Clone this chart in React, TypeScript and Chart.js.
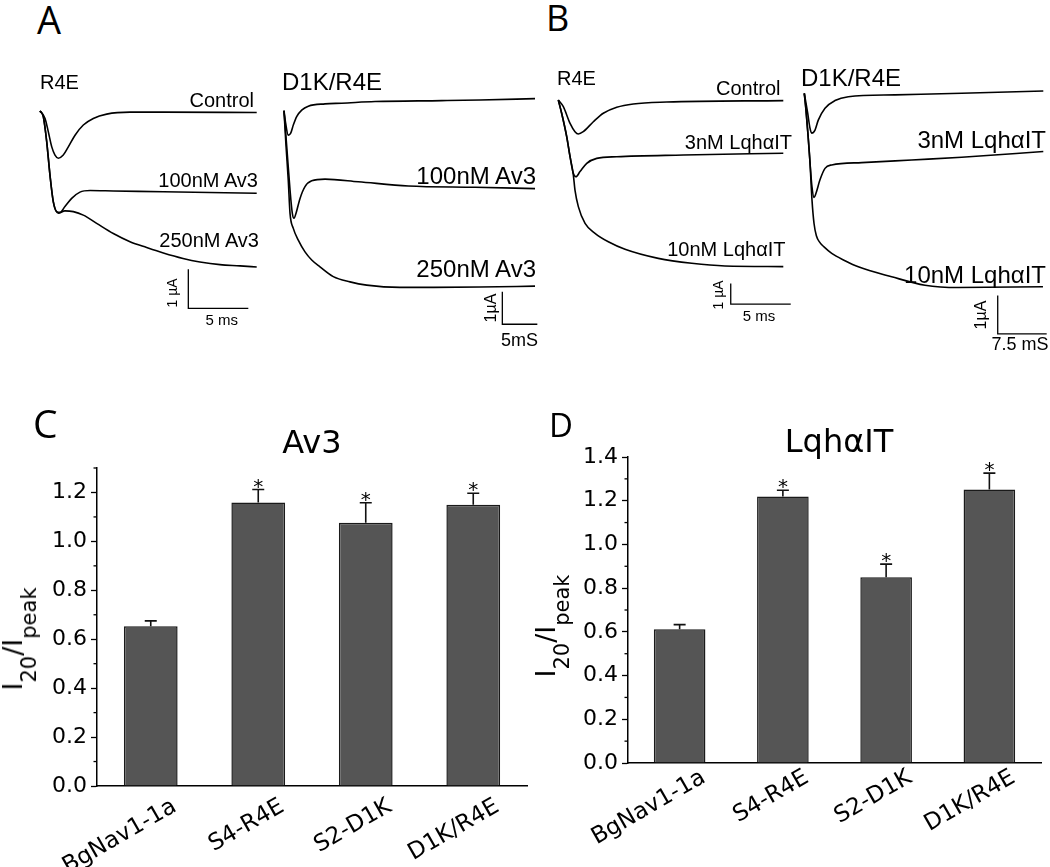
import React, { useEffect, useRef } from 'react';
import { Chart, registerables } from 'chart.js';

Chart.register(...registerables);

type Pt = [number, number];

// ===== Panel A, R4E (time ms, current µA) =====
const aR4eControl: Pt[] = [[0, 0], [0.42, -0.19], [0.69, -0.53], [0.98, -0.92], [1.25, -1.13], [1.53, -1.21], [1.94, -1.13], [2.36, -0.92], [2.92, -0.62], [3.61, -0.36], [4.44, -0.19], [5.56, -0.08], [7.5, -0.03], [10.28, -0.03], [18.06, -0.04]];
const aR4eAv3_100: Pt[] = [[0, 0], [0.28, -0.15], [0.56, -0.79], [0.83, -1.64], [1.11, -2.33], [1.39, -2.58], [1.67, -2.6], [2.08, -2.45], [2.64, -2.24], [3.33, -2.08], [4.17, -2.04], [6.11, -2.05], [10.28, -2.07], [18.06, -2.11]];
const aR4eAv3_250: Pt[] = [[0, 0], [0.28, -0.15], [0.56, -0.79], [0.83, -1.64], [1.11, -2.33], [1.53, -2.62], [2.08, -2.56], [2.78, -2.58], [3.61, -2.67], [4.72, -2.88], [6.11, -3.14], [7.5, -3.35], [8.89, -3.5], [10.28, -3.64], [11.92, -3.78], [13.33, -3.87], [15, -3.94], [16.67, -3.97], [18.06, -4.0]];
const aR4eScale = { t: 12.36, i: -5.06, ms: 5, ua: 1 };

// ===== Panel A, D1K/R4E =====
const aD1kControl: Pt[] = [[0, 0], [0.24, -0.39], [0.61, -0.75], [0.96, -0.69], [1.33, -0.44], [1.81, -0.18], [2.53, 0.02], [3.47, 0.14], [5.86, 0.21], [8.24, 0.23], [13, 0.28], [22.53, 0.31], [28, 0.33], [35.86, 0.37]];
const aD1kAv3_100: Pt[] = [[0, 0], [0.39, -1.1], [0.86, -2.43], [1.19, -3.15], [1.43, -3.3], [1.71, -3.15], [2.29, -2.69], [3.0, -2.33], [3.96, -2.15], [5.86, -2.1], [10.61, -2.18], [17.76, -2.31], [27.29, -2.35], [35.86, -2.39]];
const aD1kAv3_250: Pt[] = [[0, 0], [0.29, -1.08], [0.61, -2.13], [0.86, -3.15], [1.33, -3.61], [2.04, -3.97], [3.0, -4.33], [3.96, -4.58], [5.14, -4.79], [7.04, -5.09], [9.43, -5.25], [11.81, -5.35], [16.57, -5.42], [21.33, -5.42], [28, -5.41], [35.86, -5.38]];
const aD1kScale = { t: 31.19, i: -6.55, ms: 5, ua: 1 };

// ===== Panel B, R4E =====
const bR4eControl: Pt[] = [[0, 0], [0.42, -0.32], [0.98, -1.13], [1.39, -1.53], [1.67, -1.64], [2.08, -1.53], [2.92, -1.05], [3.75, -0.64], [4.87, -0.35], [6.25, -0.19], [9.03, -0.1], [18.75, -0.03]];
const bR4eLqh3: Pt[] = [[0, 0], [0.28, -0.64], [0.7, -1.77], [0.98, -2.74], [1.25, -3.54], [1.47, -3.71], [1.81, -3.46], [2.37, -3.06], [3.2, -2.82], [4.87, -2.74], [10.42, -2.66], [18.75, -2.57]];
const bR4eLqh10: Pt[] = [[0, 0], [0.28, -0.64], [0.7, -1.77], [0.98, -2.74], [1.25, -3.6], [1.39, -4.35], [1.67, -5.15], [2.23, -5.96], [3.06, -6.44], [4.17, -6.85], [5.56, -7.21], [8.33, -7.65], [11.12, -7.89], [13.89, -8.02], [18.75, -8.05]];
const bR4eScale = { t: 14.37, i: -9.86, ms: 5, ua: 1 };

// ===== Panel B, D1K/R4E =====
const bD1kControl: Pt[] = [[0, 0], [0.52, -0.52], [0.87, -0.91], [1.13, -1.04], [1.64, -0.96], [2.14, -0.7], [3.17, -0.39], [4.7, -0.19], [6.74, -0.09], [13.89, -0.04], [24.1, 0], [36.6, 0.06]];
const bD1kLqh3: Pt[] = [[0, 0], [0.26, -0.44], [0.57, -1.09], [0.87, -1.8], [1.18, -2.45], [1.49, -2.72], [1.79, -2.61], [2.4, -2.26], [3.17, -1.96], [4.2, -1.87], [8.79, -1.81], [16.45, -1.74], [24.1, -1.67], [36.6, -1.52]];
const bD1kLqh10: Pt[] = [[0, 0], [0.26, -0.44], [0.57, -1.09], [0.87, -1.8], [1.18, -2.79], [1.49, -3.4], [1.85, -3.72], [2.4, -3.9], [3.02, -4.01], [4.2, -4.18], [6.23, -4.37], [8.27, -4.53], [13.38, -4.79], [18.48, -5.01], [23.58, -5.07], [36.55, -5.05]];
const bD1kScale = { t: 29.62, i: -6.28, ms: 7.5, ua: 1 };

// ===== Bar panels =====
const barCategories = ['BgNav1-1a', 'S4-R4E', 'S2-D1K', 'D1K/R4E'];
const av3Means = [0.653, 1.159, 1.076, 1.15];
const av3Sem = [0.022, 0.053, 0.082, 0.047];
const av3Sig = [false, true, true, true];
const lqhMeans = [0.612, 1.219, 0.85, 1.251];
const lqhSem = [0.021, 0.029, 0.06, 0.075];
const lqhSig = [false, true, true, true];

type Frame = { left: number; top: number; width: number; height: number; ox: number; oy: number; pxX: number; pxY: number };
type Bar = { t: number; i: number; ms: number; ua: number };

function TracePanel({ frame, traces, bar }: { frame: Frame; traces: Pt[][]; bar: Bar }) {
  const ref = useRef<HTMLCanvasElement>(null);
  useEffect(() => {
    const f = frame;
    const xMin = (f.left - f.ox) / f.pxX;
    const xMax = (f.left + f.width - f.ox) / f.pxX;
    const yMax = (f.oy - f.top) / f.pxY;
    const yMin = (f.oy - f.top - f.height) / f.pxY;
    const datasets: any[] = traces.map((t) => ({
      data: t.map(([x, y]) => ({ x, y })),
      showLine: true,
      borderColor: '#000',
      borderWidth: 1.6,
      pointRadius: 0,
      cubicInterpolationMode: 'monotone',
      clip: false,
    }));
    datasets.push({
      data: [
        { x: bar.t, y: bar.i + bar.ua },
        { x: bar.t, y: bar.i },
        { x: bar.t + bar.ms, y: bar.i },
      ],
      showLine: true,
      borderColor: '#000',
      borderWidth: 1.3,
      pointRadius: 0,
      tension: 0,
      clip: false,
    });
    const chart = new Chart(ref.current as HTMLCanvasElement, {
      type: 'scatter',
      data: { datasets },
      options: {
        responsive: false,
        animation: false,
        devicePixelRatio: 1,
        events: [],
        layout: { padding: 0 },
        plugins: { legend: { display: false }, tooltip: { enabled: false } },
        scales: {
          x: { type: 'linear', display: false, min: xMin, max: xMax },
          y: { type: 'linear', display: false, min: yMin, max: yMax },
        },
      } as any,
    });
    return () => chart.destroy();
  }, []);
  return (
    <canvas
      ref={ref}
      width={frame.width}
      height={frame.height}
      style={{ position: 'absolute', left: frame.left, top: frame.top, width: frame.width, height: frame.height, display: 'block' }}
    />
  );
}

type BarBox = {
  left: number; top: number; width: number; height: number;
  axisX: number; areaTop: number; areaRight: number; areaBottom: number;
  yMax: number; labelPadding: number;
};

function BarPanel({ box, means, sems, sig }: { box: BarBox; means: number[]; sems: number[]; sig: boolean[] }) {
  const ref = useRef<HTMLCanvasElement>(null);
  useEffect(() => {
    const tickFont = { family: 'DejaVu Sans', size: 22 };
    const catFont = { family: 'DejaVu Sans', size: 23 };
    const errPlugin = {
      id: 'errbars',
      afterDatasetsDraw(chart: any) {
        const ctx = chart.ctx;
        const y = chart.scales.y;
        const meta = chart.getDatasetMeta(0);
        ctx.save();
        ctx.strokeStyle = '#111';
        ctx.lineWidth = 1.6;
        meta.data.forEach((el: any, i: number) => {
          const top = y.getPixelForValue(means[i] + sems[i]);
          ctx.beginPath();
          ctx.moveTo(el.x, el.y);
          ctx.lineTo(el.x, top);
          ctx.moveTo(el.x - 6, top);
          ctx.lineTo(el.x + 6, top);
          ctx.stroke();
          if (sig[i]) {
            ctx.fillStyle = '#000';
            ctx.font = '20px "DejaVu Sans"';
            ctx.textAlign = 'center';
            ctx.textBaseline = 'alphabetic';
            ctx.fillText('*', el.x, top + 3);
          }
        });
        // minor ticks between labelled ticks
        const left = chart.chartArea.left;
        ctx.strokeStyle = '#000';
        ctx.lineWidth = 1.3;
        for (let k = 1; k / 10 <= box.yMax + 1e-9; k += 2) {
          const py = y.getPixelForValue(k / 10);
          ctx.beginPath();
          ctx.moveTo(left - 3.5, py);
          ctx.lineTo(left, py);
          ctx.stroke();
        }
        ctx.restore();
      },
    };
    const chart = new Chart(ref.current as HTMLCanvasElement, {
      type: 'bar',
      data: {
        labels: barCategories,
        datasets: [
          {
            data: means,
            backgroundColor: '#555555',
            borderColor: '#1a1a1a',
            borderWidth: 1.5,
            barPercentage: 0.5,
            categoryPercentage: 1,
          },
        ],
      },
      options: {
        responsive: false,
        animation: false,
        devicePixelRatio: 1,
        events: [],
        layout: {
          padding: { top: box.areaTop - box.top, right: box.left + box.width - box.areaRight, left: 0, bottom: 0 },
        },
        plugins: { legend: { display: false }, tooltip: { enabled: false }, title: { display: false } },
        scales: {
          x: {
            grid: { display: false, drawTicks: false },
            border: { display: true, color: '#000', width: 1.5 },
            ticks: {
              color: '#000',
              font: catFont,
              minRotation: 30,
              maxRotation: 30,
              labelOffset: 24,
              padding: box.labelPadding,
              autoSkip: false,
            },
            afterFit: (s: any) => {
              s.height = box.top + box.height - box.areaBottom;
            },
          },
          y: {
            min: 0,
            max: box.yMax,
            grid: { drawOnChartArea: false, drawTicks: true, tickLength: 6, tickColor: '#000', tickWidth: 1.3 },
            border: { display: true, color: '#000', width: 1.5 },
            ticks: {
              stepSize: 0.2,
              includeBounds: false,
              color: '#000',
              padding: 4,
              font: tickFont,
              callback: (v: any) => Number(v).toFixed(1),
            },
            afterFit: (s: any) => {
              s.width = box.axisX - box.left;
            },
          },
        },
      } as any,
      plugins: [errPlugin],
    });
    return () => chart.destroy();
  }, []);
  return (
    <canvas
      ref={ref}
      width={box.width}
      height={box.height}
      style={{ position: 'absolute', left: box.left, top: box.top, width: box.width, height: box.height, display: 'block' }}
    />
  );
}

type TxtProps = {
  x: number; y: number; size: number; align?: 'left' | 'right' | 'center';
  family?: string; rotate?: boolean; children: React.ReactNode;
};

function Txt({ x, y, size, align = 'left', family = '"Liberation Sans", Arial, sans-serif', rotate, children }: TxtProps) {
  const tx = rotate ? '-50%' : align === 'right' ? '-100%' : align === 'center' ? '-50%' : '0';
  return (
    <div
      style={{
        position: 'absolute',
        left: x,
        top: rotate ? y : y - size / 2,
        fontSize: size,
        lineHeight: `${size}px`,
        fontFamily: family,
        color: '#000',
        whiteSpace: 'nowrap',
        transform: rotate ? 'translate(-50%, -50%) rotate(-90deg)' : `translateX(${tx})`,
      }}
    >
      {children}
    </div>
  );
}

function RatioTitle({ x, y }: { x: number; y: number }) {
  const sub = { fontSize: 21, verticalAlign: '-14px', lineHeight: '0px' } as React.CSSProperties;
  return (
    <div
      style={{
        position: 'absolute',
        left: x,
        top: y,
        fontSize: 27,
        lineHeight: '27px',
        fontFamily: '"DejaVu Sans", sans-serif',
        whiteSpace: 'nowrap',
        color: '#000',
        transform: 'translate(-50%, -50%) rotate(-90deg)',
      }}
    >
      I<span style={sub}>20</span>/I<span style={sub}>peak</span>
    </div>
  );
}

const letterFont = '"Open Sans", "Noto Sans", sans-serif';
const dejavu = '"DejaVu Sans", sans-serif';

export default function App() {
  return (
    <div style={{ position: 'absolute', left: 0, top: 0, width: 1050, height: 867, background: '#fff', overflow: 'hidden' }}>
      <TracePanel
        frame={{ left: 30, top: 90, width: 235, height: 225, ox: 40, oy: 111, pxX: 12, pxY: 39 }}
        traces={[aR4eControl, aR4eAv3_100, aR4eAv3_250]}
        bar={aR4eScale}
      />
      <TracePanel
        frame={{ left: 275, top: 85, width: 270, height: 250, ox: 284, oy: 110.7, pxX: 7, pxY: 32.6 }}
        traces={[aD1kControl, aD1kAv3_100, aD1kAv3_250]}
        bar={aD1kScale}
      />
      <TracePanel
        frame={{ left: 550, top: 85, width: 250, height: 225, ox: 558.3, oy: 100, pxX: 12, pxY: 20.7 }}
        traces={[bR4eControl, bR4eLqh3, bR4eLqh10]}
        bar={bR4eScale}
      />
      <TracePanel
        frame={{ left: 795, top: 80, width: 255, height: 265, ox: 804.3, oy: 93.3, pxX: 6.53, pxY: 38.3 }}
        traces={[bD1kControl, bD1kLqh3, bD1kLqh10]}
        bar={bD1kScale}
      />
      <BarPanel
        box={{ left: 0, top: 370, width: 535, height: 497, axisX: 97, areaTop: 468, areaRight: 527, areaBottom: 786, yMax: 1.3, labelPadding: 7 }}
        means={av3Means}
        sems={av3Sem}
        sig={av3Sig}
      />
      <BarPanel
        box={{ left: 530, top: 370, width: 520, height: 497, axisX: 628, areaTop: 457, areaRight: 1041, areaBottom: 763, yMax: 1.4, labelPadding: 1 }}
        means={lqhMeans}
        sems={lqhSem}
        sig={lqhSig}
      />

      {/* panel letters */}
      <Txt x={37} y={18.5} size={38} family={letterFont}>A</Txt>
      <Txt x={546} y={17.5} size={36} family={letterFont}>B</Txt>
      <Txt x={33} y={422.5} size={39} family={letterFont}>C</Txt>
      <Txt x={549} y={424} size={33} family={letterFont}>D</Txt>

      {/* Panel A labels */}
      <Txt x={40} y={81.7} size={20}>R4E</Txt>
      <Txt x={254} y={100} size={20} align="right">Control</Txt>
      <Txt x={258} y={180} size={20} align="right">100nM Av3</Txt>
      <Txt x={259} y={240} size={20} align="right">250nM Av3</Txt>
      <Txt x={282} y={81.7} size={24}>D1K/R4E</Txt>
      <Txt x={536} y={176} size={24} align="right">100nM Av3</Txt>
      <Txt x={536} y={269} size={24} align="right">250nM Av3</Txt>
      <Txt x={172} y={293} size={14} rotate>1 µA</Txt>
      <Txt x={221.7} y={319} size={15} align="center">5 ms</Txt>
      <Txt x={491} y={307.5} size={16} rotate>1µA</Txt>
      <Txt x={519.5} y={340} size={18} align="center">5mS</Txt>

      {/* Panel B labels */}
      <Txt x={557} y={78.3} size={20}>R4E</Txt>
      <Txt x={780.5} y={87.5} size={20} align="right">Control</Txt>
      <Txt x={792} y={141.7} size={20} align="right">3nM LqhαIT</Txt>
      <Txt x={785.5} y={248.8} size={20} align="right">10nM LqhαIT</Txt>
      <Txt x={801} y={78.3} size={24}>D1K/R4E</Txt>
      <Txt x={1046} y={140} size={24} align="right">3nM LqhαIT</Txt>
      <Txt x={1046} y={275} size={24} align="right">10nM LqhαIT</Txt>
      <Txt x={718} y={295} size={14} rotate>1 µA</Txt>
      <Txt x={759} y={315} size={15} align="center">5 ms</Txt>
      <Txt x={981} y={315} size={16} rotate>1µA</Txt>
      <Txt x={1020} y={344} size={18} align="center">7.5 mS</Txt>

      {/* Bar panel titles */}
      <Txt x={312} y={441.7} size={32} align="center" family={dejavu}>Av3</Txt>
      <Txt x={839} y={441} size={32} align="center" family={dejavu}>LqhαIT</Txt>
      <RatioTitle x={14} y={639} />
      <RatioTitle x={547} y={626} />
    </div>
  );
}
